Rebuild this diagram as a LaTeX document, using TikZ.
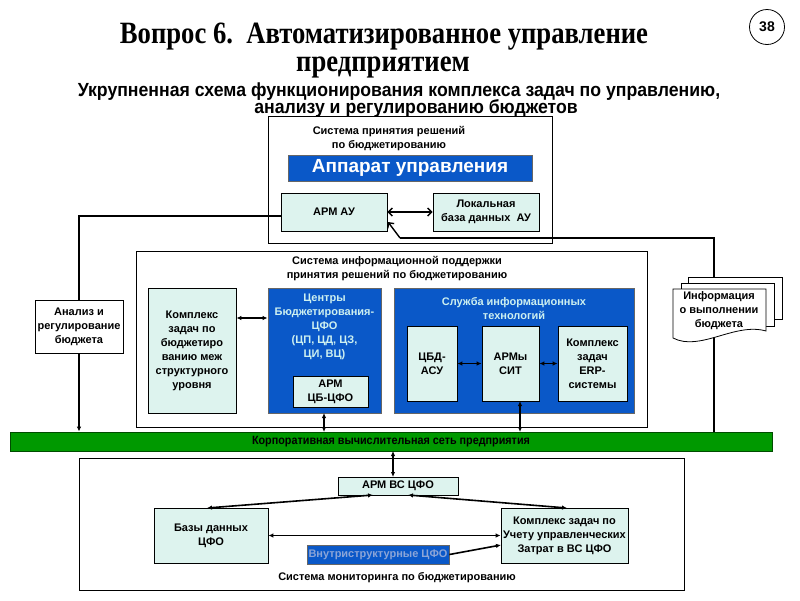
\documentclass[tikz,border=0pt]{standalone}
\usepackage{fontspec}
\usepackage{graphicx}
\setmainfont{Liberation Sans}
\newfontfamily\titlefont{Liberation Serif}
\usetikzlibrary{arrows.meta}
\definecolor{cyanbox}{RGB}{221,243,238}
\definecolor{bluebox}{RGB}{10,88,200}
\definecolor{lighttext}{RGB}{205,240,240}
\definecolor{netgreen}{RGB}{0,153,0}
\definecolor{vnutritext}{RGB}{140,165,215}
\begin{document}
\begin{tikzpicture}[x=1pt,y=-1pt,
  frame/.style={draw=black,line width=0.9pt,inner sep=0pt},
  cbox/.style={draw=black,line width=0.8pt,fill=cyanbox,inner sep=0pt,align=center,font=\small},
  bbox/.style={draw=black!60,line width=0.8pt,fill=bluebox,inner sep=0pt},
  small/.style={font=\bfseries\fontsize{11}{14}\selectfont,align=center},
  conn/.style={line width=1.6pt},
  arr/.style={conn,-{Latex[length=5pt,width=4.5pt]}},
  darr/.style={conn,{Latex[length=5pt,width=4.5pt]}-{Latex[length=5pt,width=4.5pt]}},
  barb/.style={line width=1.4pt,{Straight Barb[length=4pt,width=8pt]}-{Straight Barb[length=4pt,width=8pt]}},
  ttl/.style={inner sep=0pt,anchor=base,text height=20pt,text depth=6pt,font=\titlefont\bfseries\fontsize{31}{31}\selectfont},
  subt/.style={inner sep=0pt,anchor=base,text height=12.5pt,text depth=3pt,font=\bfseries\fontsize{19}{19}\selectfont}
]
\useasboundingbox (0,0) rectangle (800,600);
\fill[white] (0,0) rectangle (800,600);

% titles
\node[ttl] (title1) at (384,43) {\scalebox{0.86}[1]{Вопрос 6.\ \ Автоматизированное управление}};
\node[ttl] (title2) at (383,71) {\scalebox{0.86}[1]{предприятием}};
\node[subt] (sub1) at (399,96) {\scalebox{0.93}[1]{Укрупненная схема функционирования комплекса задач по управлению,}};
\node[subt] (sub2) at (416,113.5) {\scalebox{0.93}[1]{анализу и регулированию бюджетов}};
\node[draw,circle,line width=0.8pt,minimum size=35pt,inner sep=0pt,font=\bfseries\fontsize{14}{14}\selectfont] (num) at (767,27) {38};

% top frame
\node[frame,minimum width=284pt,minimum height=127pt] (frameTop) at (410,179.5) {};
\node[small] (lblTop) at (389,139) {Система принятия решений\\по бюджетированию};
\node[bbox,minimum width=244pt,minimum height=26pt,text=white,font=\bfseries\fontsize{19}{19}\selectfont] (apparat) at (410,168) {Аппарат управления};
\node[cbox,minimum width=106pt,minimum height=38pt,small] (armau) at (334,212) {АРМ АУ};
\node[cbox,minimum width=106pt,minimum height=38pt,small] (localdb) at (486,212) {Локальная\\база данных\ \ АУ};

% analysis box
\node[draw,line width=0.8pt,fill=white,minimum width=88pt,minimum height=53pt,inner sep=0pt,small] (analiz) at (79,326.5) {Анализ и\\регулирование\\бюджета};

% middle frame
\node[frame,minimum width=511pt,minimum height=176pt] (frameMid) at (391.5,339) {};
\node[small] (lblMid) at (397,269) {Система информационной поддержки\\принятия решений по бюджетированию};
\node[cbox,minimum width=88pt,minimum height=125pt,small] (komplexL) at (192,350.5) {Комплекс\\задач по\\бюджетиро\\ванию меж\\структурного\\уровня};
\node[bbox,minimum width=113pt,minimum height=125pt] (centry) at (324.5,350.5) {};
\node[small,text=lighttext] (centryTxt) at (324.5,326.5) {Центры\\Бюджетирования-\\ЦФО\\(ЦП, ЦД, ЦЗ,\\ЦИ, ВЦ)};
\node[cbox,minimum width=75pt,minimum height=31pt,small] (armcb) at (330.5,391.5) {АРМ\\ЦБ-ЦФО};
\node[bbox,minimum width=240pt,minimum height=125pt] (sluzhba) at (514,350.5) {};
\node[small,text=lighttext] (sluzhbaTxt) at (514,309) {Служба информационных\\технологий};
\node[cbox,minimum width=50pt,minimum height=75pt,small] (cbd) at (432,363.5) {ЦБД-\\АСУ};
\node[cbox,minimum width=57pt,minimum height=75pt,small] (armsit) at (510.5,363.5) {АРМы\\СИТ};
\node[cbox,minimum width=69pt,minimum height=75pt,small] (erp) at (592.5,363.5) {Комплекс\\задач\\ERP-\\системы};

% network
\node[draw=black!70!green,line width=0.8pt,fill=netgreen,minimum width=762pt,minimum height=19pt,inner sep=0pt,font=\bfseries\fontsize{12}{12}\selectfont] (net) at (391,441.5) {\scalebox{0.9}[1]{Корпоративная вычислительная сеть предприятия}};

% bottom frame
\node[frame,minimum width=605pt,minimum height=132pt] (frameBot) at (381.5,524) {};
\node[cbox,minimum width=120pt,minimum height=18pt,small] (armvs) at (398,486) {АРМ ВС ЦФО};
\node[cbox,minimum width=114pt,minimum height=55pt,small] (bazy) at (211,535.5) {Базы данных\\ЦФО};
\node[cbox,minimum width=127pt,minimum height=55pt,small] (uchet) at (564.5,535.5) {Комплекс задач по\\Учету управленческих\\Затрат в ВС ЦФО};
\node[bbox,minimum width=142pt,minimum height=19pt,small,text=vnutritext] (vnutri) at (378,554.5) {Внутриструктурные ЦФО};
\node[small] (lblBot) at (397,578) {Система мониторинга по бюджетированию};

% coordinates
\coordinate (docTop) at (714,277);
\coordinate (docBot) at (714,337);
\coordinate (bendL) at (79,216);
\coordinate (bendR) at (714,238);
\coordinate (bendD) at (400,238);

% connectors
\draw[barb] (armau.east) -- (localdb.west);
\draw[conn] (armau.west |- bendL) -- (bendL) -- (analiz.north);
\draw[arr] (analiz.south) -- (analiz.south |- net.north);
\draw[conn] (docTop) -- (bendR) -- (bendD);
\draw[line width=1.4pt,-{Straight Barb[length=4pt,width=8pt]}] (bendD) -- (388,222);
\draw[conn] (docBot) -- (docBot |- net.north);
\draw[darr] (komplexL.east |- 0,318) -- (centry.west |- 0,318);
\draw[darr] (324,413) -- (324,432);
\draw[darr] (cbd.east) -- (armsit.west);
\draw[darr] (armsit.east) -- (erp.west);
\draw[darr] (520,401) -- (520,432);
\draw[darr] (393,451) -- (393,477);
\draw[darr] (373,495) -- (207,508);
\draw[darr] (408,495) -- (567,508);
\draw[darr] (bazy.east) -- (bazy.east -| uchet.west);
\draw[arr] (vnutri.east) -- (501,545);

% document stack
\begin{scope}[line width=0.8pt]
\draw[fill=white] (688,319) -- (688,277) -- (782,277) -- (782,319) -- cycle;
\draw[fill=white] (681,326) -- (681,283) -- (774,283) -- (774,326) -- cycle;
\draw[fill=white] (673,338) -- (673,289) -- (766,289) -- (766,331) .. controls (735,322) and (700,352) .. (673,338) -- cycle;
\end{scope}
\node[small] (docTxt) at (719,311) {Информация\\о выполнении\\бюджета};
\end{tikzpicture}
\end{document}
